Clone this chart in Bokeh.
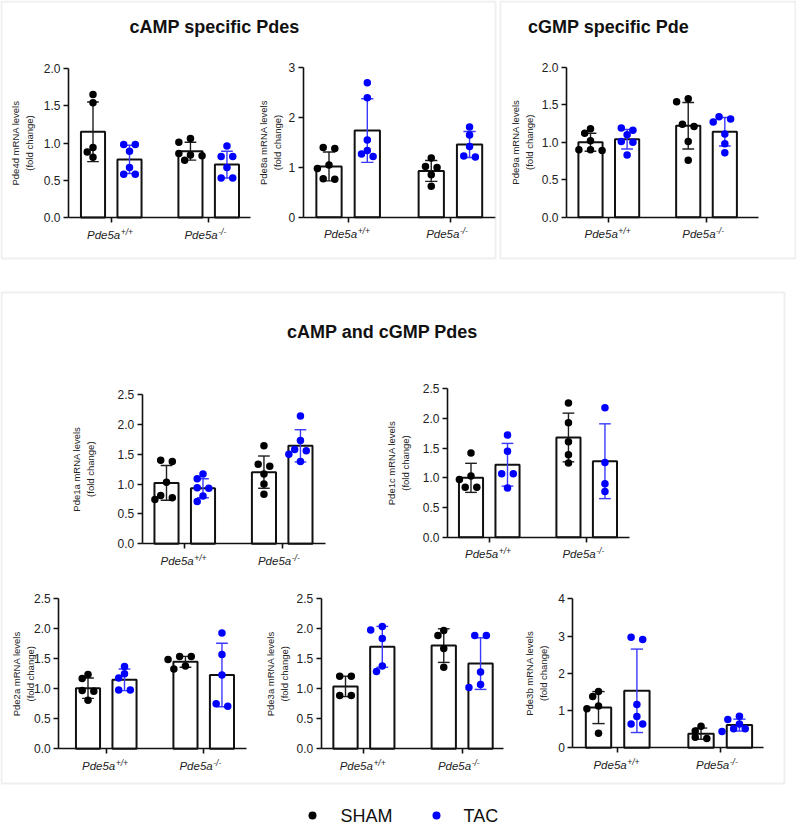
import numpy as np
from bokeh.plotting import figure
from bokeh.models import (Range1d, LinearAxis, FixedTicker, BoxAnnotation,
                          NumeralTickFormatter, CustomJSTickFormatter)
from bokeh.core.properties import value
from bokeh.embed import file_html
from bokeh.resources import INLINE

W, H = 796, 824
FONT = "Liberation Sans"
TEXT = "#222222"

# ---------------- categories ----------------
gene_base = "Pde5a"
genotypes = ["+/+", "-/-"]
conditions = ["SHAM", "TAC"]
cond_colors = ["#000000", "#0000ff"]
err_colors = ["#1e1e1e", "#3a3aff"]

# ---------------- data (fold change) ----------------
# order inside mean / sd lists: SHAM +/+, TAC +/+, SHAM -/-, TAC -/-
pde4d_sham_wt = [1.65, 1.54, 0.94, 0.88, 0.81]
pde4d_tac_wt = [0.98, 0.98, 0.89, 0.67, 0.58, 0.58]
pde4d_sham_ko = [1.06, 1.01, 0.86, 0.84, 0.83, 0.77]
pde4d_tac_ko = [0.96, 0.82, 0.82, 0.67, 0.53, 0.53]
pde4d_mean = [1.15, 0.78, 0.89, 0.71]
pde4d_sd = [0.40, 0.19, 0.12, 0.18]
pde4d_ticks = [0.0, 0.5, 1.0, 1.5, 2.0]

pde8a_sham_wt = [1.38, 1.40, 1.05, 0.98, 0.77, 0.76]
pde8a_tac_wt = [2.70, 2.40, 1.55, 1.34, 1.22, 1.27]
pde8a_sham_ko = [1.19, 1.02, 1.00, 0.85, 0.62]
pde8a_tac_ko = [1.81, 1.65, 1.42, 1.21, 1.23]
pde8a_mean = [1.02, 1.74, 0.93, 1.46]
pde8a_sd = [0.29, 0.64, 0.21, 0.26]
pde8a_ticks = [0, 1, 2, 3]

pde9a_sham_wt = [1.18, 1.12, 1.02, 0.90, 0.90, 0.89]
pde9a_tac_wt = [1.19, 1.16, 1.10, 1.01, 1.00, 0.83]
pde9a_sham_ko = [1.58, 1.54, 1.24, 1.21, 1.01, 0.76]
pde9a_tac_ko = [1.34, 1.31, 1.27, 1.11, 0.98, 0.86]
pde9a_mean = [1.00, 1.04, 1.22, 1.14]
pde9a_sd = [0.12, 0.13, 0.31, 0.19]
pde9a_ticks = [0.0, 0.5, 1.0, 1.5, 2.0]

pde1a_sham_wt = [1.40, 1.38, 1.03, 0.81, 0.77, 0.74]
pde1a_tac_wt = [1.17, 1.09, 0.94, 0.93, 0.80, 0.71]
pde1a_sham_ko = [1.64, 1.33, 1.30, 1.17, 1.00, 0.83]
pde1a_tac_ko = [2.14, 1.73, 1.58, 1.56, 1.50, 1.38]
pde1a_mean = [1.02, 0.93, 1.20, 1.64]
pde1a_sd = [0.29, 0.16, 0.27, 0.27]
pde1a_ticks = [0.0, 0.5, 1.0, 1.5, 2.0, 2.5]

pde1c_sham_wt = [1.42, 1.03, 0.97, 0.84, 0.84]
pde1c_tac_wt = [1.72, 1.45, 1.07, 1.07, 0.83]
pde1c_sham_ko = [2.26, 1.93, 1.61, 1.39, 1.25]
pde1c_tac_ko = [2.18, 1.26, 0.90, 0.77]
pde1c_mean = [1.00, 1.22, 1.68, 1.28]
pde1c_sd = [0.245, 0.36, 0.41, 0.63]
pde1c_ticks = [0.0, 0.5, 1.0, 1.5, 2.0, 2.5]

pde2a_sham_wt = [1.24, 1.17, 0.97, 0.96, 0.81]
pde2a_tac_wt = [1.37, 1.25, 1.18, 0.98, 0.98]
pde2a_sham_ko = [1.54, 1.54, 1.49, 1.38, 1.33]
pde2a_tac_ko = [1.93, 1.57, 1.23, 0.75, 0.71]
pde2a_mean = [1.01, 1.15, 1.45, 1.23]
pde2a_sd = [0.17, 0.18, 0.09, 0.53]
pde2a_ticks = [0.0, 0.5, 1.0, 1.5, 2.0, 2.5]

pde3a_sham_wt = [1.21, 1.21, 0.89, 0.89]
pde3a_tac_wt = [2.04, 1.98, 1.84, 1.38, 1.29]
pde3a_sham_ko = [1.97, 1.89, 1.67, 1.36]
pde3a_tac_ko = [1.89, 1.89, 1.28, 1.07, 1.02]
pde3a_mean = [1.04, 1.70, 1.72, 1.42]
pde3a_sd = [0.17, 0.34, 0.28, 0.43]
pde3a_ticks = [0.0, 0.5, 1.0, 1.5, 2.0, 2.5]

pde3b_sham_wt = [1.51, 1.38, 1.12, 1.05, 0.39]
pde3b_tac_wt = [2.97, 2.91, 1.16, 0.84, 0.64, 0.64]
pde3b_sham_ko = [0.58, 0.45, 0.28, 0.25]
pde3b_tac_ko = [0.85, 0.76, 0.64, 0.51, 0.51, 0.44]
pde3b_mean = [1.08, 1.53, 0.38, 0.61]
pde3b_sd = [0.43, 1.12, 0.15, 0.16]
pde3b_ticks = [0, 1, 2, 3, 4]

# ---------------- layout (pixels) ----------------
# frame: y-axis x, first bar centre x, px per bar step, x-axis end, y of 0, y of top tick, y-label offset
GROUP_STEP = 2.67
BAR_W = 0.66
CAP = 0.16

panels = [
    dict(key="pde4d", name="Pde4d", groups=[pde4d_sham_wt, pde4d_tac_wt, pde4d_sham_ko, pde4d_tac_ko],
         mean=pde4d_mean, sd=pde4d_sd, ticks=pde4d_ticks, fmt="0.0",
         frame=(68, 92.5, 36.5, 250, 217, 68, 46)),
    dict(key="pde8a", name="Pde8a", groups=[pde8a_sham_wt, pde8a_tac_wt, pde8a_sham_ko, pde8a_tac_ko],
         mean=pde8a_mean, sd=pde8a_sd, ticks=pde8a_ticks, fmt="0",
         frame=(302.7, 328.5, 38.3, 495, 216.7, 67.3, 33)),
    dict(key="pde9a", name="Pde9a", groups=[pde9a_sham_wt, pde9a_tac_wt, pde9a_sham_ko, pde9a_tac_ko],
         mean=pde9a_mean, sd=pde9a_sd, ticks=pde9a_ticks, fmt="0.0",
         frame=(566, 590, 36.6, 758, 216.7, 66.7, 44)),
    dict(key="pde1a", name="Pde1a", groups=[pde1a_sham_wt, pde1a_tac_wt, pde1a_sham_ko, pde1a_tac_ko],
         mean=pde1a_mean, sd=pde1a_sd, ticks=pde1a_ticks, fmt="0.0",
         frame=(141.7, 166, 36.5, 325, 543.3, 394, 59)),
    dict(key="pde1c", name="Pde1c", groups=[pde1c_sham_wt, pde1c_tac_wt, pde1c_sham_ko, pde1c_tac_ko],
         mean=pde1c_mean, sd=pde1c_sd, ticks=pde1c_ticks, fmt="0.0",
         frame=(447, 470.5, 36.5, 629, 536.7, 388.3, 49)),
    dict(key="pde2a", name="Pde2a", groups=[pde2a_sham_wt, pde2a_tac_wt, pde2a_sham_ko, pde2a_tac_ko],
         mean=pde2a_mean, sd=pde2a_sd, ticks=pde2a_ticks, fmt="0.0",
         frame=(58.3, 87.5, 36.5, 246, 748.3, 598.3, 35)),
    dict(key="pde3a", name="Pde3a", groups=[pde3a_sham_wt, pde3a_tac_wt, pde3a_sham_ko, pde3a_tac_ko],
         mean=pde3a_mean, sd=pde3a_sd, ticks=pde3a_ticks, fmt="0.0",
         frame=(320.7, 345, 36.8, 503, 748.3, 598.3, 44)),
    dict(key="pde3b", name="Pde3b", groups=[pde3b_sham_wt, pde3b_tac_wt, pde3b_sham_ko, pde3b_tac_ko],
         mean=pde3b_mean, sd=pde3b_sd, ticks=pde3b_ticks, fmt="0",
         frame=(572.3, 598, 38.4, 763, 747.3, 598.3, 36)),
]


def swarm(vals, k, step=5.8, dmin=7.0, tie=2.5):
    """Horizontal pixel offsets for a simple dot swarm."""
    vals = np.asarray(vals, float)
    py = vals * k
    order = list(np.argsort(-vals, kind="stable"))
    off = np.zeros(len(vals))
    placed = []
    i = 0
    while i < len(order):
        grp = [order[i]]
        j = i + 1
        while j < len(order) and abs(py[order[j]] - py[grp[0]]) < tie:
            grp.append(order[j])
            j += 1
        if len(grp) > 1:
            n = len(grp)
            for m, g in enumerate(grp):
                off[g] = (m - (n - 1) / 2) * 2 * step
                placed.append(g)
        else:
            g = grp[0]
            for c in [0, -1, 1, -2, 2, -3, 3]:
                o = c * step
                if all(np.hypot(o - off[q], py[g] - py[q]) >= dmin for q in placed):
                    off[g] = o
                    break
            placed.append(g)
        i = j
    return off


p = figure(width=W, height=H, x_range=Range1d(0, W), y_range=Range1d(H, 0),
           x_axis_location=None, y_axis_location=None, toolbar_location=None,
           output_backend="svg", title=None, min_border=0, outline_line_color=None,
           background_fill_color="white", border_fill_color="white")
p.grid.visible = False

# group boxes
for (l, r, t, b) in [(1, 495, 1, 258), (500, 795, 1, 258), (1, 784, 292, 783)]:
    p.add_layout(BoxAnnotation(left=l, right=r, top=t, bottom=b, fill_alpha=0,
                               line_color="#c9c9c9", line_width=2))

# box titles
p.text(x=[214, 608, 382], y=[26, 26, 331],
       text=["cAMP specific Pdes", "cGMP specific Pde", "cAMP and cGMP Pdes"],
       text_align="center", text_baseline="alphabetic", text_font=value(FONT),
       text_font_style="bold", text_font_size="18px", text_color="#111111")

extra_x, extra_y = {}, {}
cond_idx = [0, 1, 0, 1]
bar_x = [g * GROUP_STEP + c for g in range(len(genotypes)) for c in range(len(conditions))]
centers = [g * GROUP_STEP + 0.5 for g in range(len(genotypes))]

for pn in panels:
    ax0, b0, u, ax1, y0, ytop, labx = pn["frame"]
    ticks = pn["ticks"]
    ymax = ticks[-1]
    k = (y0 - ytop) / ymax
    xn, yn = pn["key"] + "_x", pn["key"] + "_y"
    extra_x[xn] = Range1d(start=-b0 / u, end=(W - b0) / u)
    extra_y[yn] = Range1d(start=(y0 - H) / k, end=y0 / k)
    rn = dict(x_range_name=xn, y_range_name=yn)
    xa0, xa1 = (ax0 - b0) / u, (ax1 - b0) / u

    mean, sd = pn["mean"], pn["sd"]
    p.vbar(x=bar_x, top=mean, bottom=0, width=BAR_W, fill_color="white",
           line_color="#111111", line_width=2, **rn)

    lo = [m - s for m, s in zip(mean, sd)]
    hi = [m + s for m, s in zip(mean, sd)]
    ecol = [err_colors[c] for c in cond_idx]
    p.segment(x0=bar_x, x1=bar_x, y0=lo, y1=hi, line_color=ecol, line_width=1.4, **rn)
    p.segment(x0=[x - CAP for x in bar_x], x1=[x + CAP for x in bar_x], y0=hi, y1=hi,
              line_color=ecol, line_width=1.4, **rn)
    p.segment(x0=[x - CAP for x in bar_x], x1=[x + CAP for x in bar_x], y0=lo, y1=lo,
              line_color=ecol, line_width=1.4, **rn)

    for i, vals in enumerate(pn["groups"]):
        off = swarm(vals, k)
        p.scatter(x=[bar_x[i] + o / u for o in off], y=vals, size=7.5,
                  fill_color=cond_colors[cond_idx[i]], line_color=None, **rn)

    yax = LinearAxis(fixed_location=xa0, bounds=(0, ymax), ticker=FixedTicker(ticks=ticks),
                     formatter=NumeralTickFormatter(format=pn["fmt"]), **rn)
    yax.major_tick_in = 0
    yax.major_tick_out = 5
    yax.minor_tick_line_color = None
    yax.axis_line_width = 1.6
    yax.major_tick_line_width = 1.6
    yax.axis_line_color = "#111111"
    yax.major_tick_line_color = "#111111"
    yax.major_label_text_font = FONT
    yax.major_label_text_font_size = "12px"
    yax.major_label_text_color = TEXT
    yax.major_label_standoff = 3
    p.add_layout(yax, "left")

    xax = LinearAxis(fixed_location=0, bounds=(xa0, xa1), ticker=FixedTicker(ticks=centers),
                     formatter=CustomJSTickFormatter(code="return ''"), **rn)
    xax.major_tick_in = 0
    xax.major_tick_out = 5
    xax.minor_tick_line_color = None
    xax.axis_line_width = 1.6
    xax.major_tick_line_width = 1.6
    xax.axis_line_color = "#111111"
    xax.major_tick_line_color = "#111111"
    p.add_layout(xax, "below")

    # category labels with superscript genotype
    p.text(x=centers, y=[0] * len(centers), text=[gene_base] * len(centers),
           x_offset=9, y_offset=17, text_align="right", text_baseline="alphabetic",
           text_font=value(FONT), text_font_style="italic", text_font_size="11.5px",
           text_color=TEXT, **rn)
    p.text(x=centers, y=[0] * len(centers), text=genotypes,
           x_offset=9.5, y_offset=14, text_align="left", text_baseline="alphabetic",
           text_font=value(FONT), text_font_style="italic", text_font_size="8.5px",
           text_color=TEXT, **rn)

    # y-axis title
    p.text(x=[xa0], y=[ymax / 2], text=[pn["name"] + " mRNA levels\n(fold change)"],
           x_offset=-labx, angle=np.pi / 2, text_align="center", text_baseline="middle",
           text_font=value(FONT), text_font_size="9.5px", text_line_height=1.25,
           text_color=TEXT, **rn)

p.extra_x_ranges = extra_x
p.extra_y_ranges = extra_y

# legend
p.scatter(x=[312, 436], y=[815, 815], size=8, fill_color=cond_colors, line_color=None)
p.text(x=[340, 463], y=[815, 815], text=conditions, text_align="left", text_baseline="middle",
       text_font=value(FONT), text_font_size="18px", text_color="#111111")

open("out.html", "w").write(file_html(p, INLINE))
